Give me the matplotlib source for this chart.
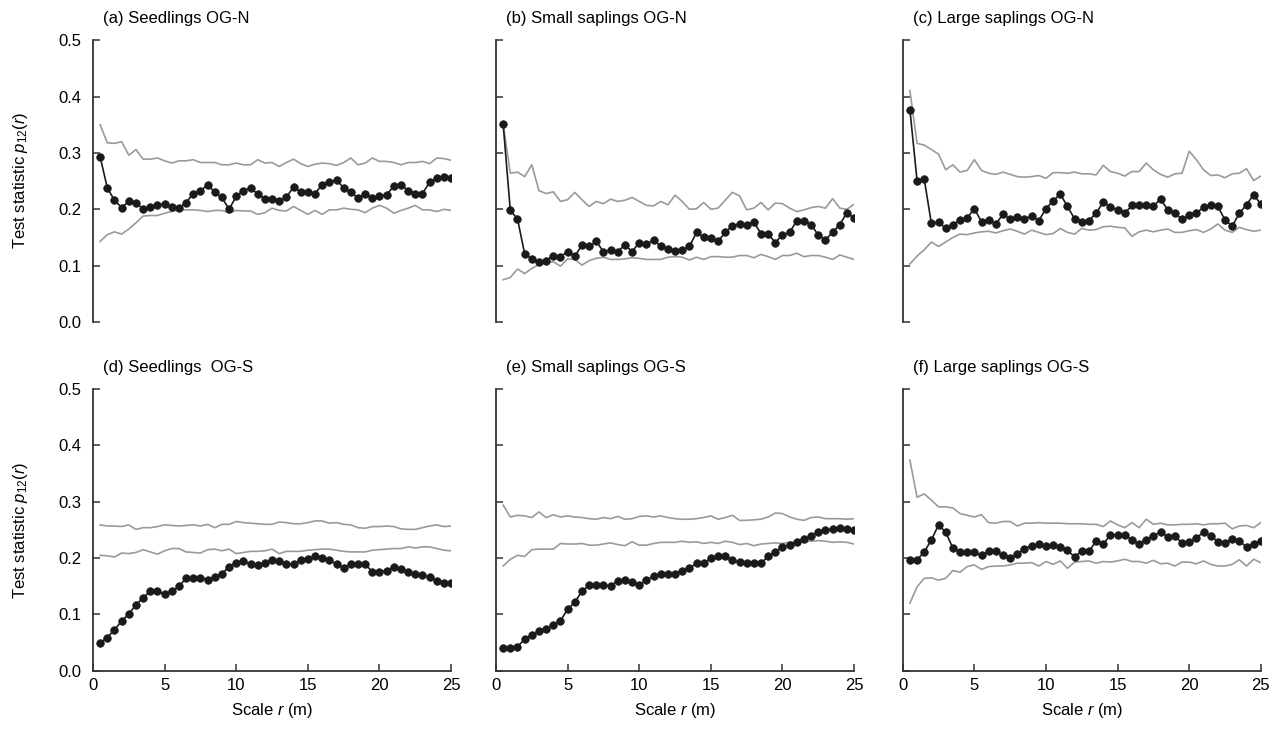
import numpy as np
import matplotlib
matplotlib.use("Agg")
import matplotlib.pyplot as plt

plt.rcParams['font.family'] = ['Liberation Sans', 'DejaVu Sans']
plt.rcParams['mathtext.fontset'] = 'custom'
plt.rcParams['mathtext.rm'] = 'Liberation Sans'
plt.rcParams['mathtext.it'] = 'Liberation Sans:italic'

# scale r (m), 0.5 m steps
r = np.arange(1, 51) * 0.5

titles = ["(a) Seedlings OG-N", "(b) Small saplings OG-N", "(c) Large saplings OG-N",
          "(d) Seedlings  OG-S", "(e) Small saplings OG-S", "(f) Large saplings OG-S"]

a_obs = [0.293, 0.238, 0.216, 0.203, 0.214, 0.212, 0.200, 0.204, 0.208, 0.209,
         0.204, 0.202, 0.212, 0.228, 0.232, 0.244, 0.230, 0.221, 0.200, 0.223,
         0.233, 0.238, 0.227, 0.219, 0.218, 0.214, 0.222, 0.239, 0.231, 0.231,
         0.228, 0.244, 0.248, 0.252, 0.238, 0.230, 0.220, 0.228, 0.220, 0.224,
         0.226, 0.241, 0.244, 0.233, 0.228, 0.228, 0.248, 0.255, 0.258, 0.255]
a_hi = [0.350, 0.318, 0.317, 0.320, 0.296, 0.306, 0.289, 0.289, 0.291, 0.286,
        0.282, 0.286, 0.286, 0.288, 0.283, 0.283, 0.283, 0.279, 0.279, 0.282,
        0.279, 0.279, 0.288, 0.282, 0.283, 0.276, 0.283, 0.289, 0.281, 0.276,
        0.280, 0.282, 0.281, 0.278, 0.283, 0.291, 0.279, 0.282, 0.291, 0.285,
        0.285, 0.283, 0.279, 0.283, 0.283, 0.285, 0.281, 0.291, 0.290, 0.287]
a_lo = [0.143, 0.155, 0.160, 0.156, 0.165, 0.176, 0.188, 0.189, 0.189, 0.193,
        0.196, 0.199, 0.199, 0.199, 0.198, 0.196, 0.198, 0.198, 0.194, 0.198,
        0.197, 0.197, 0.191, 0.194, 0.202, 0.198, 0.197, 0.205, 0.198, 0.191,
        0.198, 0.191, 0.199, 0.199, 0.202, 0.200, 0.199, 0.194, 0.202, 0.207,
        0.202, 0.193, 0.198, 0.202, 0.207, 0.199, 0.199, 0.196, 0.200, 0.198]

b_obs = [0.351, 0.198, 0.183, 0.121, 0.112, 0.106, 0.109, 0.118, 0.116, 0.125,
         0.117, 0.136, 0.134, 0.143, 0.125, 0.127, 0.125, 0.137, 0.125, 0.141,
         0.138, 0.146, 0.134, 0.129, 0.126, 0.127, 0.134, 0.159, 0.150, 0.149,
         0.143, 0.159, 0.171, 0.174, 0.173, 0.177, 0.157, 0.156, 0.141, 0.155,
         0.159, 0.180, 0.179, 0.173, 0.154, 0.146, 0.159, 0.173, 0.194, 0.184]
b_hi = [0.351, 0.264, 0.266, 0.258, 0.279, 0.233, 0.228, 0.231, 0.214, 0.217,
        0.230, 0.217, 0.205, 0.214, 0.210, 0.218, 0.214, 0.216, 0.221, 0.214,
        0.207, 0.206, 0.214, 0.208, 0.225, 0.214, 0.200, 0.201, 0.212, 0.200,
        0.202, 0.216, 0.230, 0.224, 0.199, 0.202, 0.212, 0.199, 0.211, 0.210,
        0.202, 0.196, 0.199, 0.203, 0.205, 0.202, 0.219, 0.202, 0.200, 0.209]
b_lo = [0.075, 0.079, 0.094, 0.086, 0.095, 0.102, 0.105, 0.107, 0.099, 0.112,
        0.111, 0.101, 0.109, 0.113, 0.115, 0.111, 0.111, 0.112, 0.114, 0.113,
        0.111, 0.111, 0.111, 0.115, 0.116, 0.115, 0.110, 0.115, 0.111, 0.116,
        0.116, 0.115, 0.115, 0.118, 0.118, 0.114, 0.120, 0.116, 0.111, 0.118,
        0.118, 0.122, 0.116, 0.118, 0.118, 0.115, 0.111, 0.119, 0.115, 0.111]

c_obs = [0.377, 0.251, 0.254, 0.175, 0.178, 0.166, 0.173, 0.181, 0.185, 0.201,
         0.178, 0.181, 0.174, 0.191, 0.183, 0.187, 0.183, 0.188, 0.180, 0.201,
         0.215, 0.227, 0.205, 0.183, 0.178, 0.180, 0.193, 0.213, 0.204, 0.199,
         0.193, 0.207, 0.207, 0.207, 0.206, 0.218, 0.199, 0.193, 0.182, 0.189,
         0.193, 0.204, 0.208, 0.205, 0.181, 0.170, 0.193, 0.208, 0.226, 0.209]
c_hi = [0.411, 0.317, 0.314, 0.306, 0.298, 0.270, 0.279, 0.266, 0.269, 0.288,
        0.269, 0.264, 0.262, 0.266, 0.262, 0.258, 0.257, 0.258, 0.260, 0.255,
        0.265, 0.265, 0.264, 0.266, 0.263, 0.263, 0.261, 0.278, 0.267, 0.264,
        0.259, 0.267, 0.267, 0.282, 0.270, 0.262, 0.257, 0.263, 0.264, 0.303,
        0.288, 0.270, 0.260, 0.261, 0.256, 0.263, 0.264, 0.272, 0.251, 0.259]
c_lo = [0.103, 0.117, 0.128, 0.142, 0.134, 0.142, 0.150, 0.156, 0.155, 0.158,
        0.160, 0.161, 0.158, 0.162, 0.165, 0.161, 0.156, 0.163, 0.159, 0.155,
        0.157, 0.166, 0.159, 0.156, 0.166, 0.163, 0.164, 0.169, 0.170, 0.168,
        0.167, 0.152, 0.160, 0.163, 0.160, 0.163, 0.165, 0.159, 0.159, 0.162,
        0.164, 0.159, 0.165, 0.174, 0.163, 0.159, 0.168, 0.164, 0.161, 0.163]

d_obs = [0.050, 0.059, 0.073, 0.088, 0.101, 0.117, 0.130, 0.141, 0.141, 0.136,
         0.141, 0.150, 0.164, 0.164, 0.165, 0.162, 0.166, 0.172, 0.185, 0.192,
         0.195, 0.189, 0.188, 0.191, 0.196, 0.195, 0.189, 0.189, 0.197, 0.198,
         0.204, 0.201, 0.197, 0.189, 0.183, 0.190, 0.190, 0.189, 0.176, 0.176,
         0.178, 0.184, 0.180, 0.176, 0.171, 0.170, 0.166, 0.160, 0.155, 0.155]
d_hi = [0.259, 0.257, 0.257, 0.256, 0.259, 0.251, 0.254, 0.254, 0.256, 0.259,
        0.258, 0.257, 0.258, 0.259, 0.257, 0.260, 0.254, 0.260, 0.260, 0.265,
        0.263, 0.262, 0.261, 0.260, 0.260, 0.264, 0.263, 0.261, 0.261, 0.263,
        0.266, 0.266, 0.262, 0.263, 0.260, 0.259, 0.254, 0.253, 0.256, 0.256,
        0.257, 0.256, 0.252, 0.251, 0.251, 0.254, 0.257, 0.259, 0.256, 0.257]
d_lo = [0.205, 0.204, 0.202, 0.209, 0.208, 0.210, 0.215, 0.211, 0.207, 0.213,
        0.217, 0.217, 0.211, 0.210, 0.209, 0.215, 0.216, 0.213, 0.216, 0.208,
        0.210, 0.212, 0.212, 0.213, 0.216, 0.208, 0.212, 0.212, 0.212, 0.214,
        0.215, 0.216, 0.216, 0.214, 0.212, 0.211, 0.211, 0.211, 0.214, 0.215,
        0.216, 0.217, 0.217, 0.220, 0.218, 0.220, 0.220, 0.217, 0.214, 0.213]

e_obs = [0.040, 0.041, 0.043, 0.056, 0.063, 0.070, 0.074, 0.081, 0.089, 0.109,
         0.122, 0.141, 0.152, 0.153, 0.153, 0.150, 0.160, 0.161, 0.157, 0.153,
         0.161, 0.168, 0.172, 0.172, 0.172, 0.178, 0.182, 0.191, 0.191, 0.200,
         0.204, 0.203, 0.196, 0.193, 0.192, 0.192, 0.191, 0.203, 0.211, 0.220,
         0.224, 0.229, 0.234, 0.239, 0.246, 0.250, 0.251, 0.254, 0.252, 0.250]
e_hi = [0.294, 0.273, 0.276, 0.275, 0.272, 0.282, 0.272, 0.277, 0.273, 0.275,
        0.273, 0.272, 0.270, 0.269, 0.272, 0.270, 0.274, 0.269, 0.270, 0.274,
        0.275, 0.273, 0.275, 0.272, 0.270, 0.269, 0.269, 0.270, 0.272, 0.275,
        0.269, 0.272, 0.276, 0.267, 0.267, 0.268, 0.269, 0.273, 0.280, 0.279,
        0.273, 0.269, 0.267, 0.272, 0.273, 0.270, 0.270, 0.270, 0.269, 0.270]
e_lo = [0.186, 0.198, 0.205, 0.203, 0.215, 0.216, 0.216, 0.216, 0.226, 0.225,
        0.225, 0.226, 0.223, 0.223, 0.225, 0.227, 0.224, 0.222, 0.229, 0.223,
        0.223, 0.226, 0.228, 0.228, 0.228, 0.230, 0.228, 0.229, 0.226, 0.228,
        0.226, 0.230, 0.228, 0.224, 0.226, 0.222, 0.225, 0.226, 0.227, 0.226,
        0.228, 0.228, 0.230, 0.230, 0.231, 0.230, 0.228, 0.229, 0.228, 0.225]

f_obs = [0.197, 0.197, 0.211, 0.232, 0.259, 0.246, 0.218, 0.211, 0.210, 0.210,
         0.205, 0.212, 0.212, 0.205, 0.201, 0.207, 0.217, 0.222, 0.225, 0.222,
         0.224, 0.219, 0.214, 0.202, 0.213, 0.212, 0.230, 0.225, 0.241, 0.241,
         0.241, 0.232, 0.225, 0.233, 0.240, 0.246, 0.238, 0.239, 0.227, 0.228,
         0.236, 0.246, 0.240, 0.229, 0.227, 0.234, 0.230, 0.220, 0.225, 0.231]
f_hi = [0.374, 0.308, 0.314, 0.303, 0.291, 0.291, 0.289, 0.279, 0.276, 0.273,
        0.277, 0.263, 0.262, 0.265, 0.265, 0.257, 0.262, 0.262, 0.263, 0.262,
        0.262, 0.262, 0.261, 0.261, 0.261, 0.260, 0.260, 0.256, 0.266, 0.259,
        0.254, 0.263, 0.254, 0.269, 0.260, 0.262, 0.259, 0.259, 0.260, 0.260,
        0.261, 0.259, 0.261, 0.261, 0.262, 0.252, 0.257, 0.258, 0.254, 0.263]
f_lo = [0.120, 0.149, 0.164, 0.165, 0.161, 0.164, 0.178, 0.175, 0.185, 0.188,
        0.180, 0.185, 0.186, 0.186, 0.188, 0.191, 0.191, 0.192, 0.186, 0.194,
        0.189, 0.195, 0.182, 0.193, 0.194, 0.195, 0.191, 0.194, 0.193, 0.195,
        0.198, 0.194, 0.194, 0.191, 0.196, 0.190, 0.191, 0.186, 0.193, 0.193,
        0.190, 0.195, 0.189, 0.186, 0.186, 0.189, 0.197, 0.186, 0.198, 0.192]

panels = [(a_obs, a_hi, a_lo), (b_obs, b_hi, b_lo), (c_obs, c_hi, c_lo),
          (d_obs, d_hi, d_lo), (e_obs, e_hi, e_lo), (f_obs, f_hi, f_lo)]

fig = plt.figure(figsize=(12.79, 7.29), dpi=100)

# axes placement in figure fractions
lefts = [0.0727, 0.3878, 0.7058]
width = 0.2800
bottoms = [0.5583, 0.0798]
height = 0.3865

spine_col = "#333333"
for i, (obs, hi, lo) in enumerate(panels):
    row, col = divmod(i, 3)
    ax = fig.add_axes([lefts[col], bottoms[row], width, height])

    ax.plot(r, hi, color="#9a9a9a", lw=1.2)
    ax.plot(r, lo, color="#9a9a9a", lw=1.2)
    ax.plot(r, obs, color="#1a1a1a", lw=1.2, marker="o", ms=5.4, mew=0.6,
            markerfacecolor="#1a1a1a", markeredgecolor="#1a1a1a")

    ax.set_xlim(0, 25)
    ax.set_ylim(0, 0.5)
    ax.set_yticks([0, 0.1, 0.2, 0.3, 0.4, 0.5])
    ax.set_xticks([0, 5, 10, 15, 20, 25])

    for s in ["top", "right"]:
        ax.spines[s].set_visible(False)
    for s in ["left", "bottom"]:
        ax.spines[s].set_color(spine_col)
        ax.spines[s].set_linewidth(1.3)

    ax.tick_params(direction="in", length=5, width=1.1, color=spine_col,
                   labelsize=12, pad=8)

    if col == 0:
        ax.set_yticklabels(["0.0", "0.1", "0.2", "0.3", "0.4", "0.5"])
    else:
        ax.tick_params(axis="y", labelleft=False)

    if row == 0:
        ax.spines["bottom"].set_visible(False)
        ax.tick_params(axis="x", bottom=False, labelbottom=False)
    else:
        ax.set_xlabel(r"Scale $\it{r}$ (m)", fontsize=12, labelpad=6)
        ax.tick_params(axis="x", pad=5)

    ax.text(0.028, 1.078, titles[i], transform=ax.transAxes, fontsize=12,
            ha="left", va="center")

# shared y labels per row
for yc in [0.752, 0.273]:
    fig.text(0.016, yc, r"Test statistic $\it{p}_{\rm 12}(\it{r})$",
             rotation=90, ha="center", va="center", fontsize=12)

fig.savefig("out.png", dpi=100)
